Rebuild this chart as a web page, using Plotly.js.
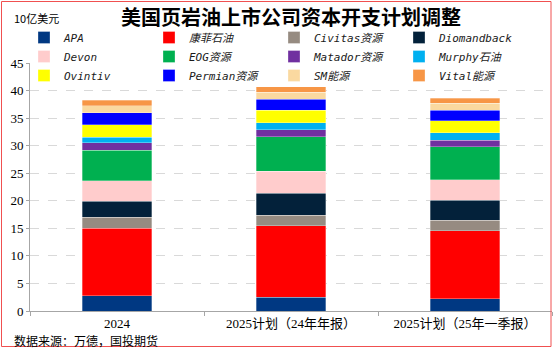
<!DOCTYPE html>
<html>
<head>
<meta charset="utf-8">
<script src="https://cdn.plot.ly/plotly-3.0.1.min.js"></script>
<style>
html,body{margin:0;padding:0;background:#fff;}
#chart{width:554px;height:351px;}
</style>
</head>
<body>
<div id="chart"></div>
<script>
// categories (x axis)
const categories = ["2024", "2025计划（24年年报）", "2025计划（25年一季报）"];
// company names (legend)
const companies = ["APA", "康菲石油", "Civitas资源", "Diomandback", "Devon", "EOG资源",
                   "Matador资源", "Murphy石油", "Ovintiv", "Permian资源", "SM能源", "Vital能源"];
// capex values, 10亿美元, per company across the three categories
const apa         = [2.8, 2.5, 2.2];
const conoco      = [12.2, 13.0, 12.4];
const civitas     = [2.0, 1.9, 1.9];
const diamondback = [2.9, 4.0, 3.6];
const devon       = [3.7, 4.0, 3.7];
const eog         = [5.6, 6.2, 6.0];
const matador     = [1.3, 1.3, 1.2];
const murphy      = [1.0, 1.3, 1.3];
const ovintiv     = [2.3, 2.2, 2.2];
const permian     = [2.2, 2.0, 1.9];
const sm          = [1.2, 1.3, 1.3];
const vital       = [1.0, 1.0, 0.9];
const seriesValues = [apa, conoco, civitas, diamondback, devon, eog, matador, murphy, ovintiv, permian, sm, vital];
const colors = ["#003882", "#ff0000", "#968b81", "#03213a", "#ffcccc", "#00b050",
                "#7030a0", "#00b0f0", "#ffff00", "#0000ff", "#fad9a0", "#f79646"];
// y tick values
const yTicks = [0, 5, 10, 15, 20, 25, 30, 35, 40, 45];

const traces = companies.map((name, i) => ({
  type: "bar",
  name: name,
  x: categories,
  y: seriesValues[i],
  marker: {color: colors[i], line: {color: "rgba(255,255,255,0.6)", width: 0.5}},
  hoverinfo: "x+y+name"
}));

const W = 554, H = 351, L = 30, R = 2, T = 63, B = 40;
const pw = W - L - R, ph = H - T - B;
const px = v => (v - L) / pw;
const py = v => (H - B - v) / ph;

const layout = {
  width: W, height: H,
  margin: {l: L, r: R, t: T, b: B, pad: 0},
  paper_bgcolor: "#fff", plot_bgcolor: "#fff",
  barmode: "stack",
  bargap: 0.6,
  showlegend: true,
  title: {
    text: "<b>美国页岩油上市公司资本开支计划调整</b>",
    font: {family: "Noto Sans CJK SC", size: 20, color: "#000"},
    x: 0.5, xref: "paper", y: 1 - 18/H, yanchor: "middle", xanchor: "center"
  },
  legend: {
    orientation: "h",
    x: px(24), y: py(23), xanchor: "left", yanchor: "top",
    entrywidth: 80, entrywidthmode: "pixels",
    font: {family: "DejaVu Sans Mono, Noto Sans CJK SC", size: 11, color: "#1a1a1a", style: "italic"},
    itemwidth: 30,
    tracegroupgap: 0,
    traceorder: "normal",
    bgcolor: "rgba(0,0,0,0)"
  },
  xaxis: {
    type: "category",
    showline: true, linecolor: "#a6a6a6", linewidth: 1,
    ticks: "outside", tickson: "boundaries", ticklen: 4, tickcolor: "#a6a6a6",
    tickfont: {family: "Liberation Serif, Noto Sans CJK SC", size: 13, color: "#000"},
    showgrid: false, zeroline: false
  },
  yaxis: {
    range: [0, 45],
    tickvals: yTicks,
    showline: true, linecolor: "#a6a6a6", linewidth: 1,
    ticks: "outside", ticklen: 3, tickcolor: "#a6a6a6",
    tickfont: {family: "Liberation Serif", size: 13, color: "#000"},
    showgrid: true, gridcolor: "#d9d9d9", griddash: "dash", gridwidth: 1,
    zeroline: false
  },
  annotations: [
    {text: "10亿美元", xref: "paper", yref: "paper", x: px(12), y: py(18),
     xanchor: "left", yanchor: "middle", showarrow: false,
     font: {family: "Noto Sans CJK SC", size: 11, color: "#000"}},
    {text: "数据来源：万德，国投期货", xref: "paper", yref: "paper", x: px(12), y: py(340),
     xanchor: "left", yanchor: "middle", showarrow: false,
     font: {family: "Noto Sans CJK SC", size: 12, color: "#000"}}
  ],
  shapes: [
    {type: "rect", xref: "paper", yref: "paper",
     x0: px(1.5), x1: px(551), y0: py(346.5), y1: py(1.5),
     line: {color: "#f05050", width: 1}, fillcolor: "rgba(0,0,0,0)", layer: "above"}
  ]
};

Plotly.newPlot("chart", traces, layout, {displayModeBar: false, staticPlot: true});
</script>
</body>
</html>
